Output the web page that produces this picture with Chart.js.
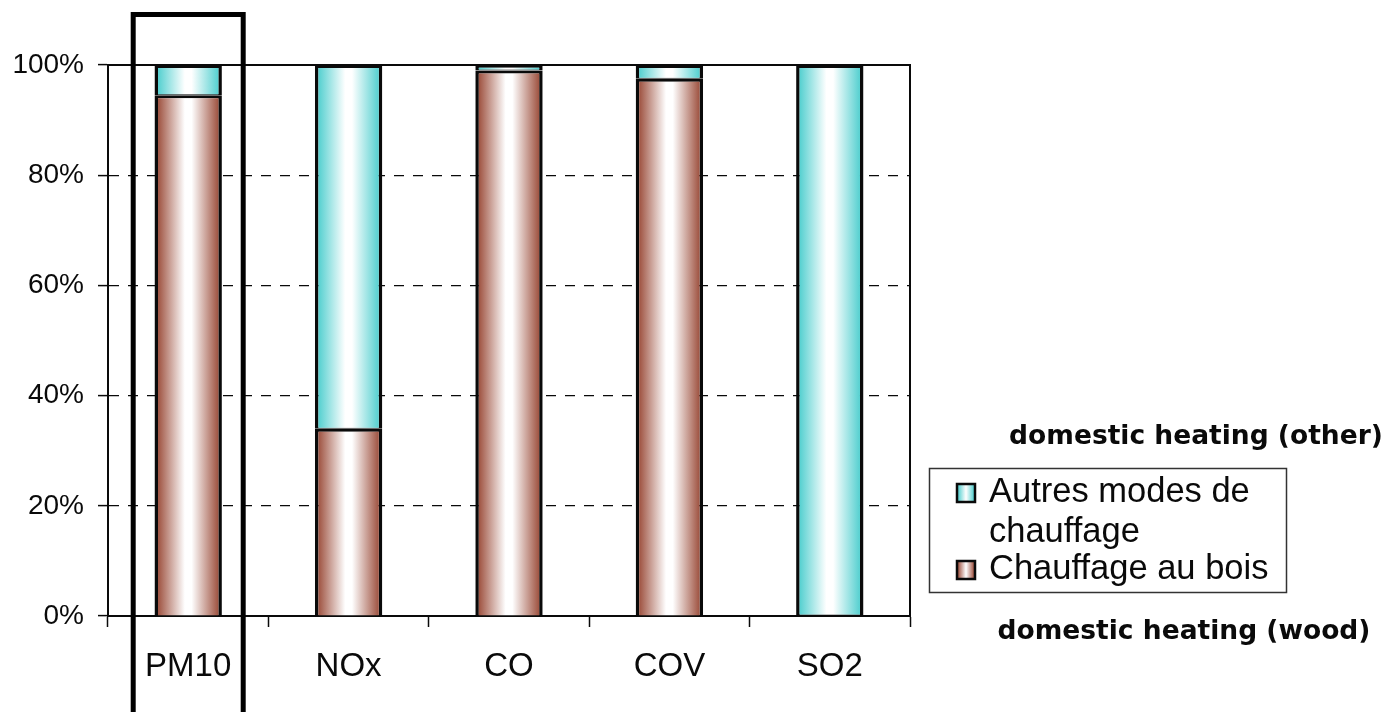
<!DOCTYPE html>
<html>
<head>
<meta charset="utf-8">
<script src="https://cdn.jsdelivr.net/npm/chart.js@4.4.1/dist/chart.umd.min.js"></script>
<style>
  html, body { margin: 0; padding: 0; background: #ffffff; }
  #wrap { width: 1393px; height: 712px; position: relative; }
</style>
</head>
<body>
<div id="wrap"><canvas id="c" width="1393" height="712"></canvas></div>
<script>
// Share of emissions by pollutant (percent of residential heating emissions)
const categories = ['PM10', 'NOx', 'CO', 'COV', 'SO2'];
const woodShare = [94.5, 34, 99, 97.5, 0];
const otherShare = [5.5, 66, 1, 2.5, 100];
const seriesNames = ['Chauffage au bois', 'Autres modes de chauffage'];
const yTicks = [0, 20, 40, 60, 80, 100];
const legendLines = [['Autres modes de', 'chauffage'], ['Chauffage au bois']];
const noteOther = 'domestic heating (other)';
const noteWood = 'domestic heating (wood)';

const WOOD_EDGE = '#923c28';
const OTHER_EDGE = '#3fcaca';
const INK = '#0a0a0a';
const BAR_FRACTION = 0.42;

// Horizontal "cylinder" shading: dark edges, white middle
function shadedFill(edge) {
  return (ctx) => {
    const chart = ctx.chart;
    const xs = chart.scales && chart.scales.x;
    if (ctx.type !== 'data' || !chart.chartArea || !xs) return edge;
    const c = xs.getPixelForValue(ctx.dataIndex);
    const half = xs.width / categories.length * BAR_FRACTION / 2;
    const g = chart.ctx.createLinearGradient(c - half, 0, c + half, 0);
    g.addColorStop(0, edge);
    g.addColorStop(0.45, '#ffffff');
    g.addColorStop(0.55, '#ffffff');
    g.addColorStop(1, edge);
    return g;
  };
}

// Plot frame drawn under the bars
const framePlugin = {
  id: 'frame',
  beforeDatasetsDraw(chart) {
    const { ctx, chartArea: a } = chart;
    ctx.save();
    ctx.strokeStyle = INK;
    ctx.lineWidth = 2;
    ctx.strokeRect(a.left, a.top, a.right - a.left, a.bottom - a.top);
    ctx.restore();
  }
};

// Boxed legend with wrapped labels, plus the English notes around it
const sideLegendPlugin = {
  id: 'sideLegend',
  afterDraw(chart) {
    const { ctx } = chart;
    const edges = [OTHER_EDGE, WOOD_EDGE];
    ctx.save();
    ctx.strokeStyle = '#333333';
    ctx.lineWidth = 1.5;
    ctx.strokeRect(929.5, 468.5, 357, 124);

    ctx.font = '34.5px "Liberation Sans", Arial, sans-serif';
    ctx.fillStyle = INK;
    ctx.textBaseline = 'alphabetic';
    ctx.textAlign = 'left';
    const baselines = [[502, 542], [579]];
    const squares = [484, 561];
    legendLines.forEach((lines, i) => {
      const sy = squares[i];
      const g = ctx.createLinearGradient(957, 0, 975, 0);
      g.addColorStop(0, edges[i]);
      g.addColorStop(0.5, '#ffffff');
      g.addColorStop(1, edges[i]);
      ctx.fillStyle = g;
      ctx.fillRect(957, sy, 18, 18);
      ctx.strokeStyle = INK;
      ctx.lineWidth = 2.5;
      ctx.strokeRect(957, sy, 18, 18);
      ctx.fillStyle = INK;
      lines.forEach((t, j) => ctx.fillText(t, 989, baselines[i][j]));
    });

    ctx.font = 'bold 26.5px "DejaVu Sans", sans-serif';
    ctx.textAlign = 'center';
    ctx.fillText(noteOther, 1196, 444);
    ctx.fillText(noteWood, 1184, 639);
    ctx.restore();
  }
};

// Thick outline around the PM10 column
const highlightPlugin = {
  id: 'highlight',
  afterDraw(chart) {
    const xs = chart.scales.x;
    const c = xs.getPixelForValue(0);
    const { ctx } = chart;
    ctx.save();
    ctx.strokeStyle = '#000000';
    ctx.lineWidth = 5;
    ctx.strokeRect(c - 55, 14.5, 110, 720);
    ctx.restore();
  }
};

new Chart(document.getElementById('c'), {
  type: 'bar',
  data: {
    labels: categories,
    datasets: [
      {
        label: seriesNames[0],
        data: woodShare,
        backgroundColor: shadedFill(WOOD_EDGE),
        borderColor: INK,
        borderWidth: { top: 3, left: 3.5, right: 3.5, bottom: 0 },
        borderSkipped: false,
        barPercentage: BAR_FRACTION,
        categoryPercentage: 1
      },
      {
        label: seriesNames[1],
        data: otherShare,
        backgroundColor: shadedFill(OTHER_EDGE),
        borderColor: INK,
        borderWidth: { top: 3, left: 3.5, right: 3.5, bottom: 1 },
        borderSkipped: false,
        barPercentage: BAR_FRACTION,
        categoryPercentage: 1
      }
    ]
  },
  options: {
    responsive: false,
    animation: false,
    layout: { padding: { top: 65, right: 483, bottom: 0, left: 0 } },
    plugins: {
      legend: { display: false },
      tooltip: { enabled: false },
      title: { display: false }
    },
    scales: {
      x: {
        stacked: true,
        afterFit(scale) { scale.height = 96; },
        grid: {
          offset: true,
          drawOnChartArea: false,
          drawTicks: true,
          tickLength: 11,
          tickColor: INK,
          tickWidth: 1.5
        },
        border: { display: true, color: INK, width: 2 },
        ticks: {
          color: INK,
          padding: 20,
          font: { family: '"Liberation Sans", Arial, sans-serif', size: 33 }
        }
      },
      y: {
        stacked: true,
        min: 0,
        max: 100,
        afterFit(scale) { scale.width = 108; },
        afterBuildTicks(scale) { scale.ticks = yTicks.map(v => ({ value: v })); },
        grid: {
          color: INK,
          lineWidth: 1.2,
          drawTicks: true,
          tickLength: 10,
          tickColor: INK,
          tickWidth: 1.5,
          tickBorderDash: []
        },
        border: { display: true, color: INK, width: 2, dash: [10, 9] },
        ticks: {
          color: INK,
          padding: 14,
          font: { family: '"Liberation Sans", Arial, sans-serif', size: 28 },
          callback: (v) => v + '%'
        }
      }
    }
  },
  plugins: [framePlugin, sideLegendPlugin, highlightPlugin]
});
</script>
</body>
</html>
